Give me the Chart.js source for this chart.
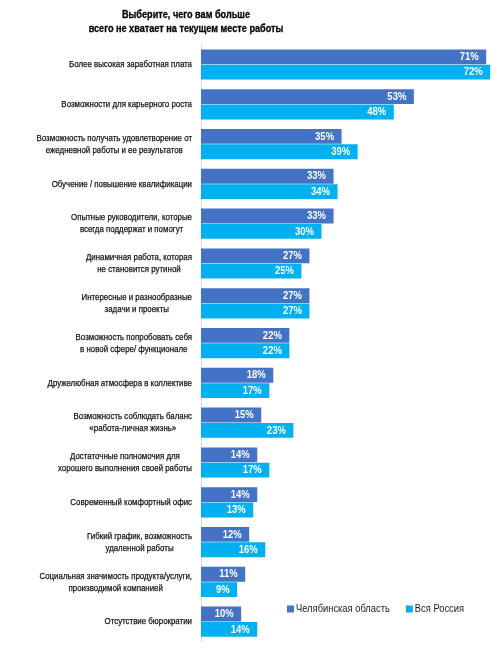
<!DOCTYPE html>
<html>
<head>
<meta charset="utf-8">
<script src="https://cdn.jsdelivr.net/npm/chart.js@4"></script>
<style>
html,body{margin:0;padding:0;background:#fff;}
#wrap{position:relative;width:492px;height:650px;}
</style>
</head>
<body>
<div id="wrap"><canvas id="c" width="492" height="650"></canvas></div>
<script>
const titleLines = ["Выберите, чего вам больше", "всего не хватает на текущем месте работы"];
const categories = [
  ["Более высокая заработная плата"],
  ["Возможности для карьерного роста"],
  ["Возможность получать удовлетворение от", "ежедневной работы и ее результатов"],
  ["Обучение / повышение квалификации"],
  ["Опытные руководители, которые", "всегда поддержат и помогут"],
  ["Динамичная работа, которая", "не становится рутиной"],
  ["Интересные и разнообразные", "задачи и проекты"],
  ["Возможность попробовать себя", "в новой сфере/ функционале"],
  ["Дружелюбная атмосфера в коллективе"],
  ["Возможность соблюдать баланс", "«работа-личная жизнь»"],
  ["Достаточные полномочия для", "хорошего выполнения своей работы"],
  ["Современный комфортный офис"],
  ["Гибкий график, возможность", "удаленной работы"],
  ["Социальная значимость продукта/услуги,", "производимой компанией"],
  ["Отсутствие бюрократии"]
];
const seriesNames = ["Челябинская область", "Вся Россия"];
const chelyabinsk = [71, 53, 35, 33, 33, 27, 27, 22, 18, 15, 14, 14, 12, 11, 10];
const russia = [72, 48, 39, 34, 30, 25, 27, 22, 17, 23, 17, 13, 16, 9, 14];
const colors = ["#4472C4", "#00B0F0"];

const SANS = "'Liberation Sans', Arial, sans-serif";

function narrowText(ctx, text, x, y, sx, stroke) {
  ctx.save();
  ctx.translate(x, y);
  ctx.scale(sx, 1);
  ctx.fillText(text, 0, 0);
  if (stroke) { ctx.lineWidth = stroke; ctx.strokeText(text, 0, 0); }
  ctx.restore();
}

const customDraw = {
  id: 'customDraw',
  afterDatasetsDraw(chart) {
    const ctx = chart.ctx;
    // data labels
    ctx.save();
    ctx.fillStyle = '#ffffff';
    ctx.font = "bold 10px " + SANS;
    ctx.textAlign = 'right';
    ctx.textBaseline = 'middle';
    chart.data.datasets.forEach((ds, di) => {
      const meta = chart.getDatasetMeta(di);
      meta.data.forEach((el, i) => {
        narrowText(ctx, ds.data[i] + '%', el.x - 7.5, el.y + 0.5, 0.95);
      });
    });
    ctx.restore();

    // category labels
    const y = chart.scales.y;
    const rightX = chart.chartArea.left - 9;
    const sL = 0.83;
    ctx.save();
    ctx.fillStyle = '#111';
    ctx.strokeStyle = '#111';
    ctx.font = "9.5px " + SANS;
    ctx.textAlign = 'center';
    ctx.textBaseline = 'middle';
    const lh = 12;
    categories.forEach((lines, i) => {
      const cy = y.getPixelForTick(i);
      const w = Math.max(...lines.map(l => ctx.measureText(l).width)) * sL;
      const cx = rightX - w / 2;
      lines.forEach((l, k) => {
        narrowText(ctx, l, cx, cy + (k - (lines.length - 1) / 2) * lh, sL, 0.25);
      });
    });
    ctx.restore();

    // title
    ctx.save();
    ctx.fillStyle = '#000';
    ctx.strokeStyle = '#000';
    ctx.font = "bold 11px " + SANS;
    ctx.textAlign = 'center';
    ctx.textBaseline = 'middle';
    titleLines.forEach((t, k) => narrowText(ctx, t, 186, 15 + k * 14, 0.83, 0.3));
    ctx.restore();

    // legend
    ctx.save();
    const sG = 0.85;
    ctx.font = "11px " + SANS;
    ctx.textBaseline = 'middle';
    ctx.textAlign = 'left';
    let lx = 287;
    const ly = 609;
    seriesNames.forEach((n, k) => {
      ctx.fillStyle = colors[k];
      ctx.fillRect(lx, ly - 3.5, 7, 7);
      ctx.fillStyle = '#1a1a1a';
      narrowText(ctx, n, lx + 9, ly, sG);
      lx += 9 + ctx.measureText(n).width * sG + 16;
    });
    ctx.restore();
  }
};

new Chart(document.getElementById('c'), {
  type: 'bar',
  data: {
    labels: categories,
    datasets: [
      { label: seriesNames[0], data: chelyabinsk, backgroundColor: colors[0], barPercentage: 0.97, categoryPercentage: 0.77 },
      { label: seriesNames[1], data: russia, backgroundColor: colors[1], barPercentage: 0.97, categoryPercentage: 0.77 }
    ]
  },
  options: {
    indexAxis: 'y',
    responsive: false,
    animation: false,
    devicePixelRatio: 1,
    layout: { padding: { left: 201, right: 1, top: 44.6, bottom: 8.4 } },
    plugins: { legend: { display: false }, title: { display: false }, tooltip: { enabled: false } },
    scales: {
      x: { display: false, min: 0, max: 72.2 },
      y: {
        ticks: { display: false },
        grid: { display: false, drawTicks: false },
        border: { display: true, color: '#d9d9d9', width: 1 },
        afterFit(s) { s.width = 0; }
      }
    }
  },
  plugins: [customDraw]
});
</script>
</body>
</html>
